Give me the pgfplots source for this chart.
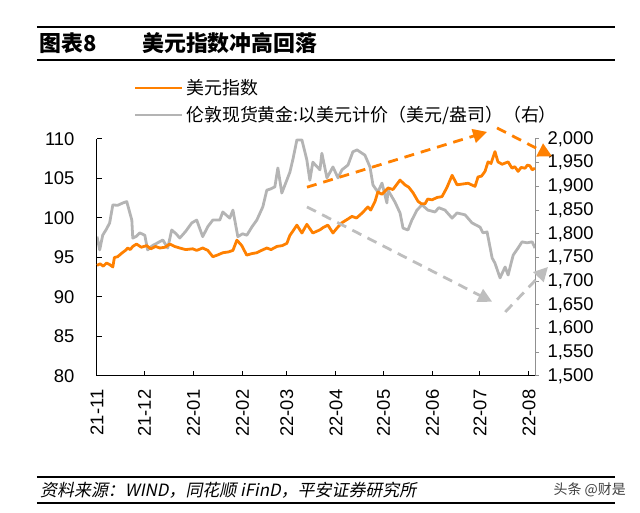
\documentclass[border=0pt]{standalone}
\usepackage{fontspec}
\setmainfont{Liberation Sans}
\newfontfamily\cjk{Noto Sans CJK SC}
\newfontfamily\cjkit[FakeSlant=0.2]{Noto Sans CJK SC}
\usepackage{pgfplots}
\pgfplotsset{compat=1.18}
\usepackage{pgfplotstable}
\usetikzlibrary{arrows.meta}
\definecolor{dxy}{HTML}{FF8000}
\definecolor{gold}{HTML}{B4B4B4}
\definecolor{garrow}{HTML}{BEBEBE}

\pgfplotstableread{
d v
0 94.0
2 94.2
4 93.9
6 94.3
8 94.1
10 93.8
11 95.0
13 95.1
16 95.6
18 95.9
19.4 96.2
21 96.0
22.6 96.4
25 96.7
28 96.3
31.4 96.5
34 96.1
37 96.4
39.7 96.2
43 96.3
46 96.7
49 96.4
52.3 96.2
56 96.0
60.5 96.1
63 95.9
66.8 96.2
70 95.9
73.2 95.1
76 95.3
79.5 95.6
83 95.7
85.9 95.9
88.4 97.2
91.5 96.5
94.6 95.3
98 95.5
101 95.6
104 95.9
107.3 96.2
110 96.0
113.7 96.4
117 96.5
120 96.8
121.9 97.8
124 98.4
126.3 99.1
129.5 98.1
132.6 99.2
136.4 98.1
140.9 98.5
143 98.8
145.9 99.1
149.1 98.1
152 98.8
154.8 99.4
158 99.8
161.1 100.2
164 100.0
167.4 100.6
171.2 101.4
173 101.0
175.7 102.1
177.5 103.3
180 103.0
183.9 103.8
187 103.6
191.5 104.8
194.6 104.2
197 103.9
199.7 103.2
202.9 102.1
205 101.8
207.3 101.8
209 102.4
211.7 102.3
215 102.6
218 102.7
221 103.8
224.4 105.4
226 104.8
227.5 104.2
231 104.3
234.5 104.4
238.9 104.0
240.8 105.2
243 105.3
245.2 105.9
247.1 107.1
249 106.9
251.5 108.4
253.4 107.1
256 106.8
259.8 107.1
262.3 106.3
264 106.5
266.1 105.9
268 106.4
270.5 106.3
272 106.7
273.6 106.6
275 106.1
276.8 106.3
}\dxytable

\pgfplotstableread{
d g
0 1794
1.7 1766
3.6 1797
6 1810
8 1823
10 1861
13 1860
16.3 1865
18.8 1868
22 1829
22.6 1791
25 1795
27 1802
30.2 1797
32 1766
35 1775
37.8 1780
41.6 1787
44.7 1770
47.2 1808
50 1800
52.3 1791
56 1805
59.9 1823
63 1829
66.8 1794
70 1815
73.2 1829
77.6 1829
79.5 1846
83.9 1833
85.9 1850
89 1794
92 1800
94.7 1797
98 1815
101 1829
104.8 1857
107.3 1892
110 1895
112.4 1899
114.3 1939
116.8 1886
119 1905
121.9 1930
124 1960
126.3 1998
129.5 1998
132.6 1956
134.5 1913
136.4 1951
140.9 1935
142.1 1970
145.3 1918
149.1 1941
152.3 1918
154.8 1935
158.6 1945
161.7 1973
164.3 1977
169.3 1966
172.5 1941
174.4 1903
177.5 1888
180.1 1907
183.2 1865
183.9 1892
188.3 1867
191.5 1844
193.4 1812
196.5 1808
199 1829
202.2 1850
205.4 1861
209.1 1850
213.6 1846
216 1855
219.9 1850
224.4 1833
227.5 1844
232.6 1840
237 1823
242.1 1814
243.9 1802
246.5 1804
249.7 1749
251.5 1738
254.7 1707
257.9 1730
259.8 1713
263 1755
266.1 1770
268.6 1783
271.8 1781
275 1783
276.8 1770
}\goldtable

\begin{document}
\begin{tikzpicture}[x=1bp,y=1bp]
\begin{scope}[shift={(-97,-137)}]
\path[use as bounding box] (0,0) rectangle (640,513);
% title bar
\draw[line width=1.8bp] (37,486) -- (615,486);
\draw[line width=1.8bp] (37,453) -- (615,453);
\node[anchor=west,inner sep=0pt,font=\cjk\bfseries\fontsize{22}{22}\selectfont] at (39,469.5) {图表8};
\node[anchor=west,inner sep=0pt,font=\cjk\bfseries\fontsize{22}{22}\selectfont] at (142,469.5) {美元指数冲高回落};
% legend
\draw[dxy,line width=2.8bp] (135,425) -- (182,425);
\node[anchor=west,inner sep=0pt,font=\cjk\fontsize{18}{18}\selectfont] at (186,425) {美元指数};
\draw[gold,line width=2.8bp] (135,398) -- (182,398);
\node[anchor=west,inner sep=0pt,font=\cjk\fontsize{18}{18}\selectfont] at (186,398) {伦敦现货黄金:以美元计价（美元/盎司）（右）};
% footer
\draw[line width=1.8bp] (37,36) -- (615,36);
\draw[line width=1.8bp] (37,10) -- (615,10);
\node[anchor=west,inner sep=0pt,font=\cjkit\fontsize{17}{17}\selectfont] at (40,23) {资料来源：WIND，同花顺 iFinD，平安证券研究所};
\node[anchor=east,inner sep=0pt,text=black!75,font=\cjk\fontsize{14}{14}\selectfont] at (626,23) {头条 @财是};
\end{scope}

% gold axis (right)
\begin{axis}[anchor=south west,scale only axis,
  width=438bp,height=237bp,
  xmin=0,xmax=276.8,ymin=1500,ymax=2000,
  axis x line=none, axis y line*=right,
  y axis line style={gold!80!black,line width=1bp},
  ytick={1500,1550,...,2000},
  tick align=outside, major tick length=4bp,
  ytick style={gold!80!black,line width=1bp},
  /pgf/number format/assume math mode=true,
  /pgf/number format/1000 sep={,},
  yticklabel style={font=\fontsize{18.5}{18.5}\selectfont,xshift=5bp},
]
\addplot[gold,line width=2.8bp,line join=round] table[x=d,y=g]{\goldtable};
\end{axis}

% dxy axis (left)
\begin{axis}[anchor=south west,scale only axis,
  width=438bp,height=237bp,
  xmin=0,xmax=276.8,ymin=80,ymax=110,
  axis x line*=bottom, axis y line*=left,
  axis line style={black,line width=1bp},
  ytick={80,85,...,110},
  xtick={0,30,61,92,120,151,181,212,242,273},
  xticklabels={21-11,21-12,22-01,22-02,22-03,22-04,22-05,22-06,22-07,22-08},
  tick align=inside, major tick length=4.5bp,
  tick style={black,line width=1bp},
  /pgf/number format/assume math mode=true,
  yticklabel style={font=\fontsize{18.5}{18.5}\selectfont,xshift=-19bp},
  xticklabel style={font=\fontsize{18.5}{18.5}\selectfont,rotate=90,anchor=east,xshift=-10bp},
  clip=false,
]
\addplot[dxy,line width=2.8bp,line join=round] table[x=d,y=v]{\dxytable};
\draw[dxy,line width=2.8bp,dash pattern=on 10bp off 7bp,-{Triangle[length=14bp,width=14bp]}]
  (axis cs:132.7,103.9) -- (axis cs:246.5,110.9);
\draw[dxy,line width=2.8bp,dash pattern=on 10bp off 7bp,-{Triangle[length=14bp,width=14bp]}]
  (axis cs:252.8,111.4) -- (axis cs:287.6,107.8);
\draw[garrow,line width=2.8bp,dash pattern=on 10bp off 7bp,-{Triangle[length=14bp,width=14bp]}]
  (axis cs:132.7,101.4) -- (axis cs:249.7,89.4);
\draw[garrow,line width=2.8bp,dash pattern=on 10bp off 7bp,-{Triangle[length=14bp,width=14bp]}]
  (axis cs:258,88.1) -- (axis cs:285,93.8);
\end{axis}
\end{tikzpicture}
\end{document}
